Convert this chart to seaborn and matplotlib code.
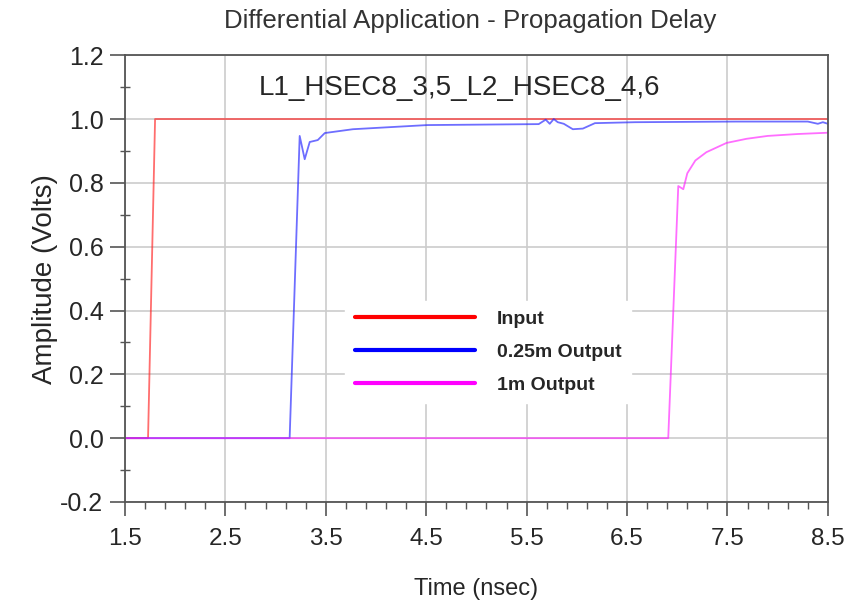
import matplotlib.pyplot as plt
import matplotlib.ticker as mticker
from matplotlib.lines import Line2D
import seaborn as sns
import pandas as pd

# waveform samples
input_t = [1.5, 1.73, 1.80, 8.5]
input_v = [0.0, 0.0, 1.0, 1.0]

out025_t = [1.5, 3.14, 3.24, 3.29, 3.34, 3.42, 3.49, 3.77, 4.51, 5.62, 5.69, 5.73,
            5.77, 5.81, 5.87, 5.96, 6.06, 6.18, 6.58, 7.59, 8.30, 8.40, 8.45, 8.5]
out025_v = [0.0, 0.0, 0.947, 0.874, 0.928, 0.934, 0.956, 0.968, 0.981, 0.984, 0.998, 0.985,
            1.0, 0.99, 0.985, 0.968, 0.97, 0.987, 0.99, 0.992, 0.992, 0.985, 0.99, 0.985]

out1m_t = [1.5, 6.91, 7.01, 7.06, 7.10, 7.18, 7.29, 7.49, 7.69, 7.90, 8.20, 8.5]
out1m_v = [0.0, 0.0, 0.79, 0.78, 0.83, 0.87, 0.896, 0.925, 0.938, 0.947, 0.953, 0.957]

labels = ["Input", "0.25m Output", "1m Output"]
colors = ["#ff2020", "#2020ff", "#ff20ff"]

df = pd.concat([
    pd.DataFrame({"Time": input_t, "Amp": input_v, "Signal": labels[0]}),
    pd.DataFrame({"Time": out025_t, "Amp": out025_v, "Signal": labels[1]}),
    pd.DataFrame({"Time": out1m_t, "Amp": out1m_v, "Signal": labels[2]}),
])

sns.set_style("white")
plt.rcParams['font.family'] = ['Liberation Sans', 'DejaVu Sans']

fig = plt.figure(figsize=(8.5, 6.03), dpi=100)
ax = fig.add_axes([0.147, 0.1675, 0.827, 0.741])

sns.lineplot(data=df, x="Time", y="Amp", hue="Signal", palette=dict(zip(labels, colors)),
             linewidth=1.3, alpha=0.65, sort=False, legend=False, ax=ax)

ax.set_xlim(1.5, 8.5)
ax.set_ylim(-0.2, 1.2)
ax.xaxis.set_major_locator(mticker.MultipleLocator(1.0, offset=0.5))
ax.xaxis.set_minor_locator(mticker.MultipleLocator(0.2, offset=0.1))
ax.yaxis.set_major_locator(mticker.MultipleLocator(0.2))
ax.yaxis.set_minor_locator(mticker.MultipleLocator(0.1))
ax.xaxis.set_major_formatter(mticker.FormatStrFormatter('%.1f'))
ax.yaxis.set_major_formatter(mticker.FormatStrFormatter('%.1f'))
ax.grid(True, which='major', color='#cccccc', linewidth=1.2)

ax.tick_params(axis='x', which='major', direction='out', length=10, width=1.2,
               color='#555555', labelsize=17.5, pad=9)
ax.tick_params(axis='x', which='minor', direction='out', length=5, width=1.0,
               color='#555555')
ax.tick_params(axis='y', which='major', direction='out', length=11, width=1.2,
               color='#555555', labelsize=18, pad=4.5)
ax.tick_params(axis='y', which='minor', direction='inout', length=7, width=1.0,
               color='#555555')
ax.tick_params(bottom=True, left=True, which='both')
for s in ax.spines.values():
    s.set_color('#555555')
    s.set_linewidth(1.3)

ax.set_xlabel("Time (nsec)", fontsize=17, labelpad=20)
ax.set_ylabel("Amplitude (Volts)", fontsize=20, labelpad=2)
fig.text(0.553, 0.966, "Differential Application - Propagation Delay", fontsize=18.6,
         ha='center', va='center', color='#333333')
ax.text(0.4765, 0.926, "L1_HSEC8_3,5_L2_HSEC8_4,6", transform=ax.transAxes,
        fontsize=20, ha='center', va='center')

handles = [Line2D([], [], color=c, linewidth=3) for c in ["#ff0000", "#0000ff", "#ff00ff"]]
leg = ax.legend(handles, labels, loc='lower left', bbox_to_anchor=(0.299, 0.199),
                frameon=True, fancybox=False, framealpha=1, edgecolor='white',
                handlelength=6.2, handletextpad=1.1, labelspacing=0.78,
                prop={'weight': 'bold', 'size': 14}, borderpad=0.5)

fig.savefig("out.png", dpi=100)
